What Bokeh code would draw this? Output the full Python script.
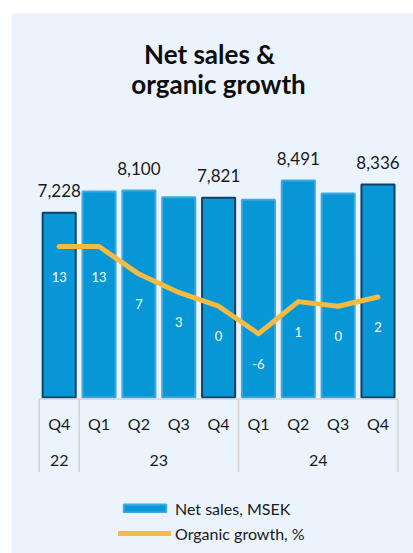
from bokeh.plotting import figure
from bokeh.models import ColumnDataSource, Range1d, Legend, LegendItem, Label, Spacer, CDSView, BooleanFilter
from bokeh.layouts import row, column
from bokeh.embed import file_html
from bokeh.resources import INLINE
from bokeh.core.properties import value

# ---------------- data ----------------
years = ["22", "23", "23", "23", "23", "24", "24", "24", "24"]
quarters = ["Q4", "Q1", "Q2", "Q3", "Q4", "Q1", "Q2", "Q3", "Q4"]
net_sales = [7228, 8060, 8100, 7840, 7821, 7740, 8491, 7980, 8336]
organic_growth = [13, 13, 7, 3, 0, -6, 1, 0, 2]
show_sales_label = [True, False, True, False, True, False, True, False, True]

title_lines = ["Net sales &", "organic growth"]
legend_labels = ["Net sales, MSEK", "Organic growth, %"]

# ---------------- styling / layout ----------------
W, H = 402, 540
BG = "#EBF4FD"
BAR = "#0797D7"
BAR_EDGE_Q4 = "#123F66"
BAR_EDGE = "#3EA9E0"
LINE = "#F4BA41"
TXT = "#1A1A1A"
FONT = "Lato"

cat_px0, cat_step = 47.7, 39.85          # pixel position of first category centre, px per category
base_px = 155.9                           # px from bottom where sales = 0
sales_per_px = 39.11
growth_zero_px = 247.3                    # px from bottom where growth = 0
growth_per_px = 1 / 4.59

def sales_at(px_from_bottom):
    return (px_from_bottom - base_px) * sales_per_px

n = len(quarters)
xs = list(range(n))

p = figure(width=W, height=H, output_backend="svg", toolbar_location=None,
           x_axis_type=None, y_axis_type=None, min_border=0,
           x_range=Range1d(-cat_px0 / cat_step, (W - cat_px0) / cat_step),
           y_range=Range1d(sales_at(0), sales_at(H)))
p.extra_y_ranges = {"g": Range1d(-growth_zero_px * growth_per_px, (H - growth_zero_px) * growth_per_px)}
p.background_fill_color = BG
p.border_fill_color = BG
p.outline_line_color = None
p.grid.visible = False

edge = [BAR_EDGE_Q4 if q == "Q4" else BAR_EDGE for q in quarters]
src = ColumnDataSource(dict(
    x=xs, sales=net_sales, growth=organic_growth, edge=edge,
    sales_txt=[f"{v:,}" for v in net_sales],
    growth_txt=[str(g) for g in organic_growth],
    quarter=quarters,
))

bars = p.vbar(x="x", top="sales", bottom=0, width=0.83, source=src,
              fill_color=BAR, line_color="edge", line_width=2)
line = p.line(x="x", y="growth", source=src, y_range_name="g",
              line_color=LINE, line_width=5, line_cap="round", line_join="round")

# sales labels (only every other bar)
view = CDSView(filter=BooleanFilter(show_sales_label))
p.text(x="x", y="sales", text="sales_txt", source=src, view=view,
       y_offset=-22, text_align="center", text_baseline="middle",
       text_font=value(FONT), text_font_size="17px", text_color=TXT)

# growth labels inside bars
p.text(x="x", y="growth", text="growth_txt", source=src, y_range_name="g",
       y_offset=30, text_align="center", text_baseline="middle",
       text_font=value(FONT), text_font_size="13px", text_color="white")

# ---------------- hand-drawn two level category axis ----------------
axis_y = sales_at(base_px - 1.5)
sep_bottom = sales_at(H - (471.7 - 13))
p.segment(x0=[-0.5], y0=[axis_y], x1=[n - 0.5], y1=[axis_y], line_color="#D4D4D4", line_width=1.5)

bounds = [-0.5] + [i - 0.5 for i in range(1, n) if years[i] != years[i - 1]] + [n - 0.5]
p.segment(x0=bounds, y0=[axis_y] * len(bounds), x1=bounds, y1=[sep_bottom] * len(bounds),
          line_color="#D4D4D4", line_width=1.5)

q_y = sales_at(H - (423.3 - 13))
p.text(x=xs, y=[q_y] * n, text=quarters, text_align="center", text_baseline="middle",
       text_font=value(FONT), text_font_size="16px", text_color=TXT)

groups = []
for i, yv in enumerate(years):
    if not groups or groups[-1][0] != yv:
        groups.append([yv, i, i])
    else:
        groups[-1][2] = i
y_y = sales_at(H - (460 - 13))
p.text(x=[(g[1] + g[2]) / 2 for g in groups], y=[y_y] * len(groups), text=[g[0] for g in groups],
       text_align="center", text_baseline="middle",
       text_font=value(FONT), text_font_size="16px", text_color=TXT)

# ---------------- title ----------------
for txt, ypx, xoff in [(title_lines[0], H - (53 - 13), -3), (title_lines[1], H - (83 - 13), 6)]:
    p.add_layout(Label(x=W / 2 + xoff, y=ypx, x_units="screen", y_units="screen", text=txt,
                       text_align="center", text_baseline="middle", text_font=FONT,
                       text_font_size="26px", text_font_style="bold", text_color="#0D0D0D"))

# ---------------- legend ----------------
legend = Legend(items=[LegendItem(label=legend_labels[0], renderers=[bars], index=1),
                       LegendItem(label=legend_labels[1], renderers=[line])],
                location=(107, 10), orientation="vertical",
                glyph_width=53, glyph_height=10, label_height=20, spacing=5,
                label_standoff=4, padding=0, margin=0,
                border_line_color=None, background_fill_alpha=0,
                label_text_font=FONT, label_text_font_size="16px", label_text_color=TXT)
p.add_layout(legend, "center")

layout = column(Spacer(height=13), row(Spacer(width=11), p))
open("out.html", "w").write(file_html(layout, INLINE))
